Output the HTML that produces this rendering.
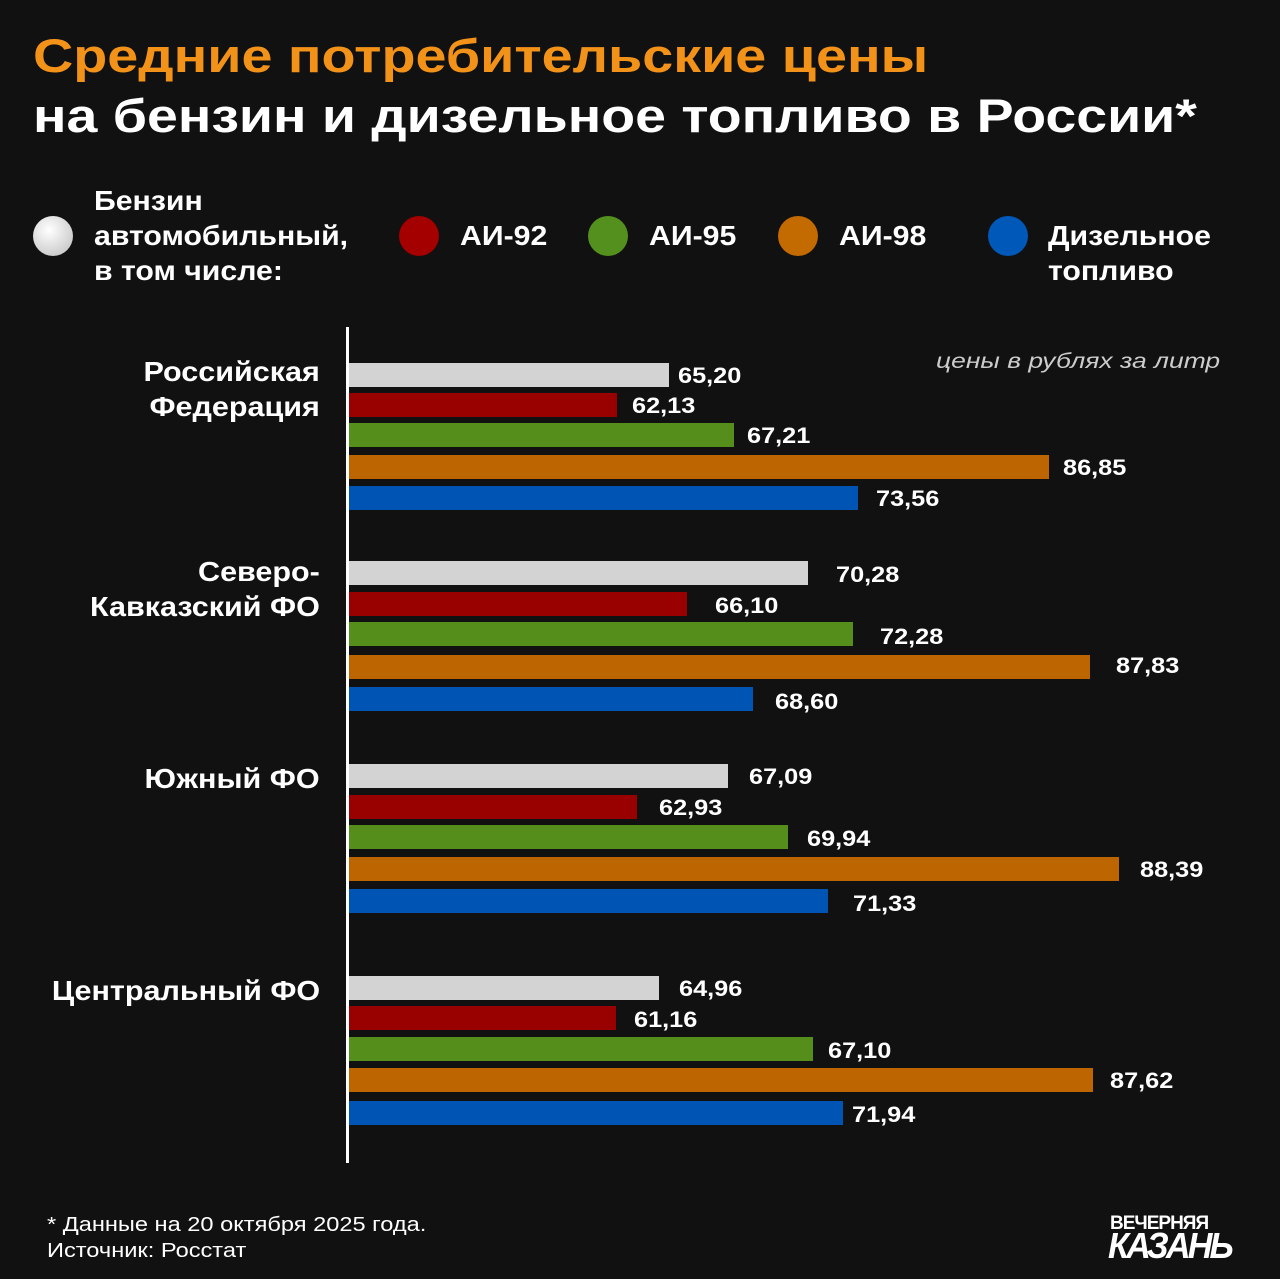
<!DOCTYPE html>
<html><head><meta charset="utf-8"><style>
body{margin:0;background:#111;}
#c{position:relative;width:1280px;height:1279px;background:#111;overflow:hidden;font-family:"Liberation Sans","DejaVu Sans",sans-serif;color:#fff;}
.a{position:absolute;white-space:nowrap;}
.t{font-weight:bold;font-size:47px;left:33px;transform-origin:left top;}
.dot{position:absolute;width:40px;height:40px;border-radius:50%;}
.lg{font-size:28px;font-weight:bold;line-height:35px;transform:scaleX(1.08);transform-origin:left top;}
.b{position:absolute;left:349px;height:24px;}
.v{position:absolute;font-size:22px;font-weight:bold;transform:scaleX(1.15);transform-origin:left top;}
.cat{position:absolute;right:960px;text-align:right;font-size:28px;font-weight:bold;line-height:35px;transform:scaleX(1.09);transform-origin:right top;}
</style></head><body><div id="c">
<div class="a t" style="top:28px;color:#f39219;transform:scaleX(1.185)">Средние потребительские цены</div>
<div class="a t" style="top:88px;transform:scaleX(1.18)">на бензин и дизельное топливо в России*</div>

<div class="dot" style="left:33px;top:216px;background:radial-gradient(circle at 40% 35%,#fff,#bbb)"></div>
<div class="a lg" style="left:94px;top:183px">Бензин<br>автомобильный,<br>в том числе:</div>
<div class="dot" style="left:399px;top:216px;background:#a40000"></div>
<div class="a lg" style="left:460px;top:218px">АИ-92</div>
<div class="dot" style="left:588px;top:216px;background:#54901e"></div>
<div class="a lg" style="left:649px;top:218px">АИ-95</div>
<div class="dot" style="left:778px;top:216px;background:#c36a00"></div>
<div class="a lg" style="left:839px;top:218px">АИ-98</div>
<div class="dot" style="left:988px;top:216px;background:#0058b8"></div>
<div class="a lg" style="left:1048px;top:218px">Дизельное<br>топливо</div>

<div class="a" style="left:346px;top:327px;width:3px;height:836px;background:#fff"></div>
<div class="a" style="left:936px;top:350px;font-size:21px;font-style:italic;color:#ccc;transform:scaleX(1.26);transform-origin:left top">цены в рублях за литр</div>

<div class="cat" style="top:354px">Российская<br>Федерация</div>
<div class="cat" style="top:554px">Северо-<br>Кавказский ФО</div>
<div class="cat" style="top:761px">Южный ФО</div>
<div class="cat" style="top:973px">Центральный ФО</div>

<div class="b" style="top:363px;width:320px;background:#d3d3d3"></div><div class="v" style="left:678px;top:363px">65,20</div>
<div class="b" style="top:393px;width:268px;background:#990000"></div><div class="v" style="left:632px;top:393px">62,13</div>
<div class="b" style="top:423px;width:385px;background:#558e1b"></div><div class="v" style="left:747px;top:423px">67,21</div>
<div class="b" style="top:455px;width:700px;background:#bd6500"></div><div class="v" style="left:1063px;top:455px">86,85</div>
<div class="b" style="top:486px;width:509px;background:#0055b4"></div><div class="v" style="left:876px;top:486px">73,56</div>

<div class="b" style="top:561px;width:459px;background:#d3d3d3"></div><div class="v" style="left:836px;top:562px">70,28</div>
<div class="b" style="top:592px;width:338px;background:#990000"></div><div class="v" style="left:715px;top:593px">66,10</div>
<div class="b" style="top:622px;width:504px;background:#558e1b"></div><div class="v" style="left:880px;top:624px">72,28</div>
<div class="b" style="top:655px;width:741px;background:#bd6500"></div><div class="v" style="left:1116px;top:653px">87,83</div>
<div class="b" style="top:687px;width:404px;background:#0055b4"></div><div class="v" style="left:775px;top:689px">68,60</div>

<div class="b" style="top:764px;width:379px;background:#d3d3d3"></div><div class="v" style="left:749px;top:764px">67,09</div>
<div class="b" style="top:795px;width:288px;background:#990000"></div><div class="v" style="left:659px;top:795px">62,93</div>
<div class="b" style="top:825px;width:439px;background:#558e1b"></div><div class="v" style="left:807px;top:826px">69,94</div>
<div class="b" style="top:857px;width:770px;background:#bd6500"></div><div class="v" style="left:1140px;top:857px">88,39</div>
<div class="b" style="top:889px;width:479px;background:#0055b4"></div><div class="v" style="left:853px;top:891px">71,33</div>

<div class="b" style="top:976px;width:310px;background:#d3d3d3"></div><div class="v" style="left:679px;top:976px">64,96</div>
<div class="b" style="top:1006px;width:267px;background:#990000"></div><div class="v" style="left:634px;top:1007px">61,16</div>
<div class="b" style="top:1037px;width:464px;background:#558e1b"></div><div class="v" style="left:828px;top:1038px">67,10</div>
<div class="b" style="top:1068px;width:744px;background:#bd6500"></div><div class="v" style="left:1110px;top:1068px">87,62</div>
<div class="b" style="top:1101px;width:494px;background:#0055b4"></div><div class="v" style="left:852px;top:1102px">71,94</div>

<div class="a" style="left:47px;top:1212px;font-size:20px;line-height:26px;transform:scaleX(1.18);transform-origin:left top">* Данные на 20 октября 2025 года.<br>Источник: Росстат</div>
<div class="a" style="left:1110px;top:1215px;font-size:19px;font-weight:900;letter-spacing:-1px;line-height:18px;transform:scaleX(1.0);transform-origin:left top">ВЕЧЕРНЯЯ</div>
<div class="a" style="left:1108px;top:1229px;font-size:36px;font-weight:900;font-style:italic;letter-spacing:-3px;line-height:34px;transform:scaleX(0.95);transform-origin:left top">КАЗАНЬ</div>
</div></body></html>
